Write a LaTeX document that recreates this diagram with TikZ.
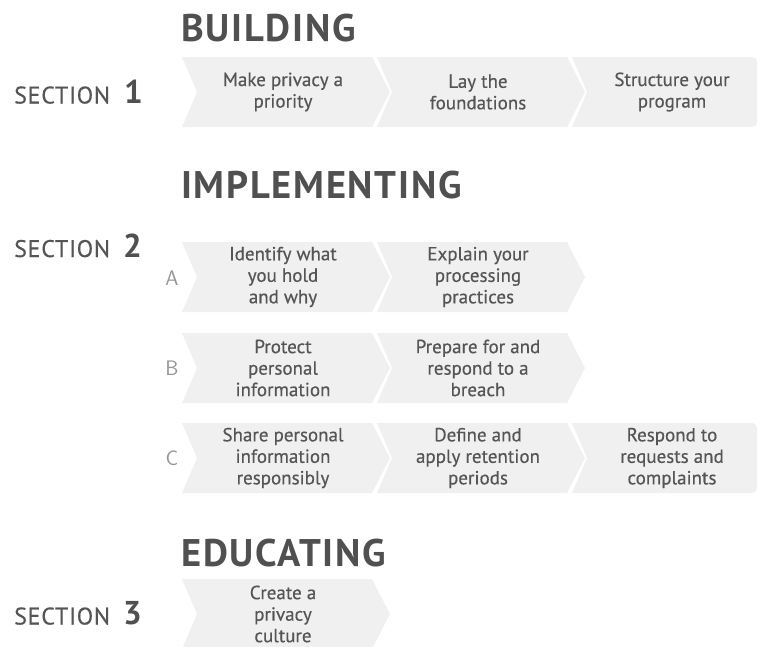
\documentclass[tikz,border=0pt]{standalone}
\usepackage{fontspec}
\setmainfont{PT Sans}
\newfontfamily\headfont[LetterSpace=4.5]{PT Sans}
\newfontfamily\chevfont[FakeBold=0.4]{PT Sans}
\newfontfamily\secfont[LetterSpace=3,FakeBold=0.3]{PT Sans}
\definecolor{chevfill}{RGB}{240,240,240}
\definecolor{headcol}{RGB}{80,80,80}
\definecolor{textcol}{RGB}{85,85,85}
\definecolor{lettercol}{RGB}{150,150,150}
\tikzset{
  chevtext/.style={align=center, text=textcol, inner sep=0pt,
    font=\chevfont\fontsize{19}{21.5}\selectfont},
  headtext/.style={anchor=base west, inner sep=0pt, text=headcol,
    font=\headfont\fontsize{38.5}{40}\selectfont\bfseries},
  sectext/.style={anchor=base west, inner sep=0pt, text=textcol,
    font=\secfont\fontsize{24}{26}\selectfont},
  secnum/.style={anchor=base west, inner sep=0pt, text=headcol,
    font=\fontsize{33}{35}\selectfont\bfseries},
  rowletter/.style={inner sep=0pt, text=lettercol,
    font=\fontsize{21}{23}\sffamily}
}
\newcommand{\chvA}[4]{%
  \fill[chevfill] (#2,#3) -- ++(190,0) -- ++(18,35) -- ++(-18,35) -- ++(-190,0) -- ++(15,-35) -- cycle;
  \node[chevtext] (#1) at ({#2+101},{#3+35}) {#4};
}
\newcommand{\chvE}[4]{%
  \fill[chevfill] (#2,#3) [rounded corners=5pt] -- (757,#3) -- (757,#3+70) [sharp corners] -- (#2,#3+70) -- ++(15,-35) -- cycle;
  \node[chevtext] (#1) at ({(#2+15+757)/2},{#3+35}) {#4};
}
\begin{document}
\begin{tikzpicture}[x=1pt,y=-1pt]
\clip (0,0) rectangle (759,646);
\fill[white] (0,0) rectangle (759,646);

% headings
\node[headtext] (hbuild) at (181,41.7) {BUILDING};
\node[headtext] (himpl) at (181,198) {IMPLEMENTING};
\node[headtext] (heduc) at (181,566) {EDUCATING};

% section labels
\node[sectext] (s1) at (14,103.5) {SECTION};
\node[secnum] (n1) at (124,103.5) {1};
\node[sectext] (s2) at (14,257) {SECTION};
\node[secnum] (n2) at (123,257) {2};
\node[sectext] (s3) at (14,624.5) {SECTION};
\node[secnum] (n3) at (123,624.5) {3};

% row letters
\node[rowletter] (la) at (172,278) {A};
\node[rowletter] (lb) at (172,368) {B};
\node[rowletter] (lc) at (172,458) {C};

% row 1
\chvA{r1a}{182}{57}{Make privacy a\\priority}
\chvA{r1b}{377}{57}{Lay the\\foundations}
\chvE{r1c}{572}{57}{Structure your\\program}

% row A
\chvA{ra1}{182}{242}{Identify what\\you hold\\and why}
\chvA{ra2}{377}{242}{Explain your\\processing\\practices}

% row B
\chvA{rb1}{182}{333}{Protect\\personal\\information}
\chvA{rb2}{377}{333}{Prepare for and\\respond to a\\breach}

% row C
\chvA{rc1}{182}{423}{Share personal\\information\\responsibly}
\chvA{rc2}{377}{423}{Define and\\apply retention\\periods}
\chvE{rc3}{572}{423}{Respond to\\requests and\\complaints}

% row 3
\chvA{r3a}{182}{579}{Create a\\privacy\\culture}
\end{tikzpicture}
\end{document}
